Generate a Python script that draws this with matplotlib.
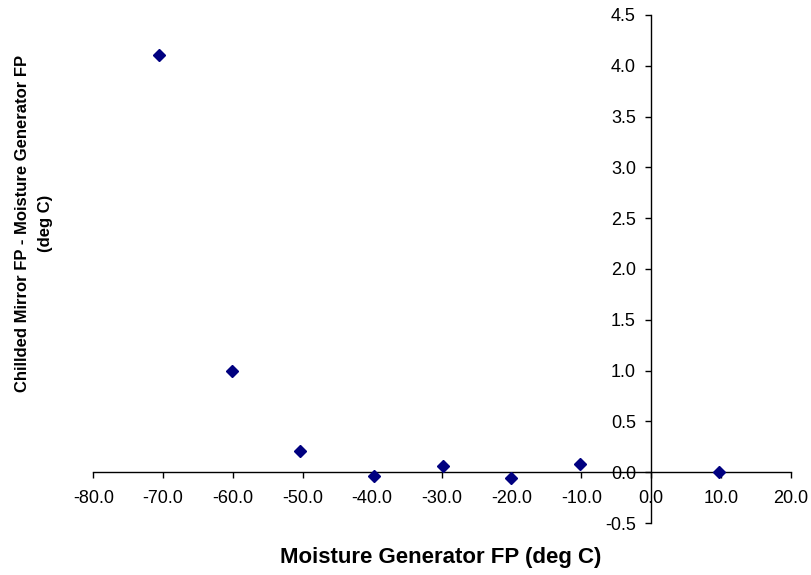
import numpy as np
import matplotlib.pyplot as plt

plt.rcParams['font.family'] = ['Liberation Sans', 'DejaVu Sans']

# %% Datos
gen_fp = [-70.6, -60.1, -50.4, -39.7, -29.9, -20.1, -10.2, 9.7]
diff_fp = [4.11, 1.00, 0.21, -0.04, 0.06, -0.06, 0.08, 0.00]

xticks = np.arange(-80, 21, 10)
yticks = np.arange(-0.5, 4.51, 0.5)

# %% Figura
fig = plt.figure(figsize=(8.11, 5.75), dpi=100)
ax = fig.add_axes([0.115, 0.0904, 0.86, 0.8836])

ax.plot(gen_fp, diff_fp, 'D', color='#000080', markersize=6.5, linestyle='none',
        clip_on=False, zorder=3)

ax.set_xlim(-80, 20)
ax.set_ylim(-0.5, 4.5)

# ejes cruzando en el origen
ax.spines['left'].set_position(('data', 0))
ax.spines['bottom'].set_position(('data', 0))
ax.spines['right'].set_visible(False)
ax.spines['top'].set_visible(False)
for s in ('left', 'bottom'):
    ax.spines[s].set_linewidth(1.0)

ax.set_xticks(xticks)
ax.set_xticklabels([f"{v:.1f}" for v in xticks])
ax.set_yticks(yticks)
ax.set_yticklabels([f"{v:.1f}" for v in yticks])
ax.tick_params(axis='x', direction='out', length=4, width=1, pad=9, labelsize=13)
ax.tick_params(axis='y', direction='out', length=4, width=1, pad=7, labelsize=13)

fig.text(0.544, 0.03, "Moisture Generator FP (deg C)", ha='center', va='center',
         fontsize=16, fontweight='bold')
fig.text(0.042, 0.612, "Chillded Mirror FP - Moisture Generator FP\n(deg C)",
         ha='center', va='center', rotation=90, fontsize=12, fontweight='bold',
         linespacing=1.65)

fig.savefig("out.png", dpi=100)
